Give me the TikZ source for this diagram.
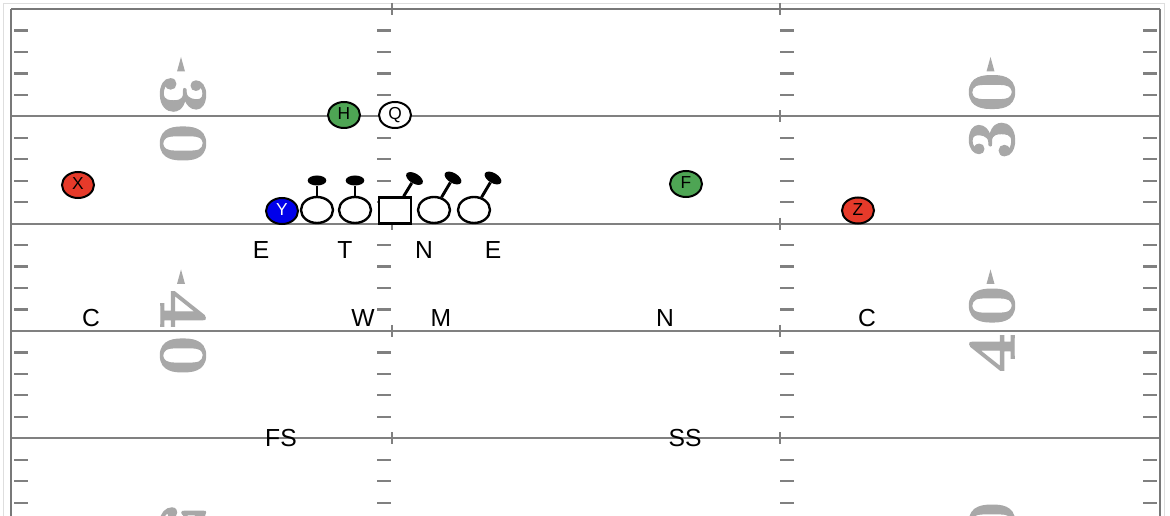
\documentclass[tikz,border=0pt]{standalone}
\usepackage{fontspec}
\setsansfont{Liberation Sans}
\newfontfamily\yardfont{lmroman10-bold.otf}[FakeBold=1.6]
\usetikzlibrary{shapes.geometric}
\definecolor{linegray}{RGB}{128,128,128}
\definecolor{bordergray}{RGB}{120,120,120}
\definecolor{framegray}{RGB}{222,222,222}
\definecolor{numgray}{RGB}{168,168,168}
\definecolor{pred}{RGB}{230,58,42}
\definecolor{pgreen}{RGB}{78,165,84}
\definecolor{pblue}{RGB}{0,0,235}
\begin{document}
\begin{tikzpicture}[x=0.75pt,y=-0.75pt,
  yardline/.style={draw=linegray,line width=1.7pt},
  hashtick/.style={draw=linegray,line width=1.7pt},
  yardnum/.style={font=\yardfont\fontsize{51}{51}\selectfont,text=numgray,inner sep=0pt},
  numtri/.style={fill=numgray},
  player/.style={ellipse,draw=black,line width=1.5pt,minimum width=24pt,minimum height=19.5pt,inner sep=0pt,
    font=\sffamily\fontsize{13}{13}\selectfont,text height=1.6ex,text depth=0pt},
  lineman/.style={ellipse,draw=black,line width=1.8pt,fill=white,minimum width=24pt,minimum height=19.5pt,inner sep=0pt},
  centerbox/.style={rectangle,draw=black,line width=1.8pt,fill=white,minimum width=24pt,minimum height=19.5pt,inner sep=0pt},
  headmark/.style={ellipse,fill=black,minimum width=14pt,minimum height=7.5pt,inner sep=0pt},
  stemline/.style={draw=black,line width=2.2pt},
  deflabel/.style={font=\sffamily\fontsize{18.5}{18.5}\selectfont,text=black,inner sep=0pt}
]
\useasboundingbox (0,0) rectangle (1170,516);
\clip (0,0) rectangle (1170,516);
\fill[white] (0,0) rectangle (1170,516);
% frames
\draw[draw=framegray,line width=1pt] (3.5,3.5) rectangle (1164.5,620);
% yard lines
\foreach \i in {1,...,5} {
  \pgfmathsetmacro{\yy}{9+107.32*\i}
  \draw[yardline] (11,\yy) -- (1160,\yy);
}
% hash ticks
\foreach \i in {0,...,4} {
  \foreach \k in {1,...,4} {
    \pgfmathsetmacro{\yy}{9+107.32*\i+21.464*\k}
    \draw[hashtick] (14,\yy) -- (28,\yy);
    \draw[hashtick] (377,\yy) -- (391,\yy);
    \draw[hashtick] (780,\yy) -- (794,\yy);
    \draw[hashtick] (1143,\yy) -- (1157,\yy);
  }
}
\foreach \i in {0,...,5} {
  \pgfmathsetmacro{\yy}{9+107.32*\i}
  \draw[hashtick,line width=1.4pt] (392,{\yy-6}) -- (392,{\yy+6});
  \draw[hashtick,line width=1.4pt] (780,{\yy-6}) -- (780,{\yy+6});
}
\draw[draw=bordergray,line width=2.2pt] (11,9) -- (11,620);
\draw[draw=bordergray,line width=2.2pt] (11,9) -- (1160,9);
\draw[draw=bordergray,line width=2.2pt] (1160,9) -- (1160,620);
% yard numbers, left side (tops toward the middle of the field)
\node[yardnum,rotate=-90] (l3) at (183,95) {3};
\node[yardnum,rotate=-90] (l30) at (183,143.5) {0};
\node[yardnum,rotate=-90] (l4) at (183,309) {4};
\node[yardnum,rotate=-90] (l40) at (183,355.5) {0};
\node[yardnum,rotate=-90] (l5) at (183,523.5) {5};
\fill[numtri] (181,57) -- (185,71.5) -- (177,71.5) -- cycle;
\fill[numtri] (181,269.5) -- (185,284) -- (177,284) -- cycle;
% yard numbers, right side
\node[yardnum,rotate=90] (r30) at (992,92) {0};
\node[yardnum,rotate=90] (r3) at (992,139.5) {3};
\node[yardnum,rotate=90] (r40) at (992,305.5) {0};
\node[yardnum,rotate=90] (r4) at (992,353) {4};
\node[yardnum,rotate=90] (r50) at (992,521.5) {0};
\fill[numtri] (990.5,57) -- (994.5,71.5) -- (986.5,71.5) -- cycle;
\fill[numtri] (990.5,269.5) -- (994.5,284) -- (986.5,284) -- cycle;
% offense
\node[player,fill=pred] (X) at (78,185) {X};
\node[player,fill=pgreen] (H) at (344,115) {H};
\node[player,fill=white] (Q) at (395,115) {Q};
\node[player,fill=pblue,text=white] (Y) at (282,211) {Y};
\node[player,fill=pgreen] (F) at (686,184) {F};
\node[player,fill=pred] (Z) at (858,210.5) {Z};
\node[lineman] (LT) at (317,210) {};
\node[lineman] (LG) at (355,210) {};
\node[centerbox] (C) at (395,210.5) {};
\node[lineman] (RG) at (434,210) {};
\node[lineman] (RT) at (474,210) {};
\node[headmark] (LTh) at (317,180.5) {};
\node[headmark] (LGh) at (355,180.5) {};
\node[headmark,rotate=-31] (Ch) at (414.5,178.5) {};
\node[headmark,rotate=-31] (RGh) at (453,178) {};
\node[headmark,rotate=-31] (RTh) at (493,178) {};
\draw[stemline] (LT) -- (LTh);
\draw[stemline] (LG) -- (LGh);
\draw[stemline] (C) -- (Ch);
\draw[stemline] (RG) -- (RGh);
\draw[stemline] (RT) -- (RTh);
% defense
\node[deflabel] (dE1) at (261,250) {E};
\node[deflabel] (dT) at (345,250) {T};
\node[deflabel] (dN) at (424,250) {N};
\node[deflabel] (dE2) at (493,250) {E};
\node[deflabel] (dC1) at (91,318.5) {C};
\node[deflabel] (dW) at (363,318.5) {W};
\node[deflabel] (dM) at (441,318.5) {M};
\node[deflabel] (dN2) at (665,318.5) {N};
\node[deflabel] (dC2) at (867,318.5) {C};
\node[deflabel] (dFS) at (281,438) {FS};
\node[deflabel] (dSS) at (685,438) {SS};
\end{tikzpicture}
\end{document}
